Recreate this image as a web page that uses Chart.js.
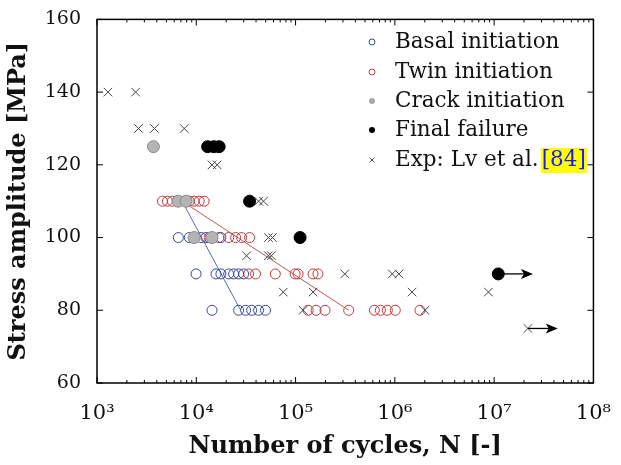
<!DOCTYPE html>
<html>
<head>
<meta charset="utf-8">
<script src="https://cdn.jsdelivr.net/npm/chart.js@4"></script>
<style>body{margin:0;background:#fff}</style>
</head>
<body>
<canvas id="chart" width="621" height="465" style="width:621px;height:465px"></canvas>
<script>
// values (cycles N, stress in MPa)
const basalN = [6600, 8500, 11200, 12500, 17700, 9950, 15800, 17700, 21200, 23800, 26700, 30000, 14400, 26700, 31400, 36100, 42400, 49800];
const basalS = [100, 100, 100, 100, 100, 90, 90, 90, 90, 90, 90, 90, 80, 80, 80, 80, 80, 80];

const twinN = [4560, 5120, 5740, 6430, 8480, 9500, 10700, 12000, 13500, 16900, 21200, 24900, 28600, 34400, 33700, 39500, 62500, 99000, 106000, 150000, 168000, 134000, 161000, 198000, 343000, 622000, 715000, 840000, 1010000, 1790000];
const twinS = [110, 110, 110, 110, 110, 110, 110, 110, 100, 100, 100, 100, 100, 100, 90, 90, 90, 90, 90, 90, 90, 80, 80, 80, 80, 80, 80, 80, 80, 80];

const crackN = [3700, 6580, 7900, 9500, 14400];
const crackS = [125, 110, 110, 100, 100];

const failN = [13000, 15000, 17000, 34400, 111000, 11000000];
const failS = [125, 125, 125, 110, 100, 90];

const expN = [1290, 2450, 2620, 3790, 7560, 14400, 16200, 42400, 47500, 53300, 58500, 32100, 53300, 57100, 313000, 942000, 1100000, 75200, 150000, 1490000, 8750000, 119000, 2010000, 21900000];
const expS = [140, 140, 130, 130, 130, 120, 120, 110, 110, 100, 100, 95, 95, 95, 90, 90, 90, 85, 85, 85, 85, 80, 80, 75];

// fitted lines
const basalLineN = [7200, 28000];
const twinLineN = [7200, 343000];
const lineS = [110, 80];

// run-out arrows: start N, end N, stress
const arrowFrom = [11000000, 21900000];
const arrowTo = [24600000, 43700000];
const arrowS = [90, 75];

const xTickExp = [3, 4, 5, 6, 7, 8];
const supers = {3: '³', 4: '⁴', 5: '⁵', 6: '⁶', 7: '⁷', 8: '⁸'};

const legendLabels = ['Basal initiation', 'Twin initiation', 'Crack initiation', 'Final failure', 'Exp: Lv et al.'];

function pts(xs, ys) {
    return xs.map((x, i) => ({x: x, y: ys[i]}));
}

const serif = "'DejaVu Serif', serif";

// frame, inward ticks, arrows and legend
const extras = {
    id: 'extras',
    afterDatasetsDraw(chart) {
        const ctx = chart.ctx;
        const a = chart.chartArea;
        const xs = chart.scales.x, ys = chart.scales.y;
        ctx.save();
        // arrows
        ctx.strokeStyle = '#000';
        ctx.fillStyle = '#000';
        ctx.lineWidth = 1.3;
        arrowFrom.forEach((n, i) => {
            const x0 = xs.getPixelForValue(n), x1 = xs.getPixelForValue(arrowTo[i]);
            const y = ys.getPixelForValue(arrowS[i]);
            ctx.beginPath();
            ctx.moveTo(x0, y);
            ctx.lineTo(x1 - 8, y);
            ctx.stroke();
            ctx.beginPath();
            ctx.moveTo(x1, y);
            ctx.lineTo(x1 - 12, y - 5);
            ctx.lineTo(x1 - 9, y);
            ctx.lineTo(x1 - 12, y + 5);
            ctx.closePath();
            ctx.fill();
        });

        // frame
        ctx.lineWidth = 1.5;
        ctx.strokeRect(a.left, a.top, a.right - a.left, a.bottom - a.top);
        ctx.lineWidth = 1;
        ctx.beginPath();
        for (let e = 3; e < 8; e++) {
            for (let m = 1; m < 10; m++) {
                const px = xs.getPixelForValue(m * Math.pow(10, e));
                const len = m === 1 ? 6 : 3;
                ctx.moveTo(px, a.bottom); ctx.lineTo(px, a.bottom - len);
                ctx.moveTo(px, a.top); ctx.lineTo(px, a.top + len);
            }
        }
        for (let v = 60; v <= 160; v += 20) {
            const py = ys.getPixelForValue(v);
            ctx.moveTo(a.left, py); ctx.lineTo(a.left + 6, py);
            ctx.moveTo(a.right, py); ctx.lineTo(a.right - 6, py);
        }
        ctx.stroke();

        // legend
        const lx = 372, tx = 395, rows = [42, 72, 101, 130, 160];
        ctx.font = '21.5px ' + serif;
        ctx.textBaseline = 'middle';
        ctx.textAlign = 'left';
        rows.forEach((ry, i) => {
            ctx.lineWidth = 1;
            ctx.beginPath();
            if (i === 0) { ctx.strokeStyle = '#3a4a9a'; ctx.arc(lx, ry, 3, 0, 2 * Math.PI); ctx.stroke(); }
            if (i === 1) { ctx.strokeStyle = '#c04040'; ctx.arc(lx, ry, 3, 0, 2 * Math.PI); ctx.stroke(); }
            if (i === 2) { ctx.fillStyle = '#a8a8a8'; ctx.arc(lx, ry, 3, 0, 2 * Math.PI); ctx.fill(); }
            if (i === 3) { ctx.fillStyle = '#000'; ctx.arc(lx, ry, 3, 0, 2 * Math.PI); ctx.fill(); }
            if (i === 4) {
                ctx.strokeStyle = '#555';
                ctx.moveTo(lx - 2.5, ry - 2.5); ctx.lineTo(lx + 2.5, ry + 2.5);
                ctx.moveTo(lx + 2.5, ry - 2.5); ctx.lineTo(lx - 2.5, ry + 2.5);
                ctx.stroke();
            }
            ctx.fillStyle = '#111';
            ctx.fillText(legendLabels[i], tx, ry);
        });
        const w = ctx.measureText(legendLabels[4]).width;
        const bx = tx + w + 3;
        const bw = ctx.measureText('[84]').width;
        ctx.fillStyle = '#ffff00';
        ctx.fillRect(bx - 1, 148, bw + 2, 25);
        ctx.fillStyle = '#1a1aff';
        ctx.fillText('[84]', bx, 160);
        ctx.restore();
    }
};

const ctx = document.getElementById('chart').getContext('2d');
const myChart = new Chart(ctx, {
    type: 'scatter',
    data: {
        datasets: [
            {label: 'basal line', data: pts(basalLineN, lineS), showLine: true, borderColor: '#5a68b0', borderWidth: 1, pointRadius: 0, order: 9},
            {label: 'twin line', data: pts(twinLineN, lineS), showLine: true, borderColor: '#c05858', borderWidth: 1, pointRadius: 0, order: 9},
            {label: 'Twin initiation', data: pts(twinN, twinS), pointStyle: 'circle', pointRadius: 5, borderColor: '#c03a3a', backgroundColor: 'rgba(0,0,0,0)', borderWidth: 1, order: 8},
            {label: 'Basal initiation', data: pts(basalN, basalS), pointStyle: 'circle', pointRadius: 5, borderColor: '#37479a', backgroundColor: 'rgba(0,0,0,0)', borderWidth: 1, order: 7},
            {label: 'Crack initiation', data: pts(crackN, crackS), pointStyle: 'circle', pointRadius: 6, borderColor: '#8a8a8a', backgroundColor: '#b4b4b4', borderWidth: 1, order: 6},
            {label: 'Exp', data: pts(expN, expS), pointStyle: 'crossRot', pointRadius: 6, borderColor: '#444', borderWidth: 1, order: 5},
            {label: 'Final failure', data: pts(failN, failS), pointStyle: 'circle', pointRadius: 6, borderColor: '#000', backgroundColor: '#000', borderWidth: 1, order: 4}
        ]
    },
    options: {
        responsive: false,
        animation: false,
        layout: {padding: {top: 17, right: 23, left: 0, bottom: 0}},
        plugins: {legend: {display: false}, tooltip: {enabled: false}},
        scales: {
            x: {
                type: 'logarithmic',
                min: 1e3,
                max: 1e8,
                afterBuildTicks: s => { s.ticks = xTickExp.map(e => ({value: Math.pow(10, e)})); },
                afterFit: s => { s.height = 82; },
                grid: {display: false},
                border: {display: false},
                ticks: {
                    autoSkip: false,
                    maxRotation: 0,
                    padding: 10,
                    color: '#111',
                    font: {family: serif, size: 21},
                    callback: v => '10' + supers[Math.round(Math.log10(v))]
                },
                title: {display: true, text: 'Number of cycles, N [-]', color: '#111', font: {family: serif, size: 24, weight: 'bold'}, padding: {top: 0}}
            },
            y: {
                min: 60,
                max: 160,
                afterFit: s => { s.width = 97; },
                grid: {display: false},
                border: {display: false},
                ticks: {stepSize: 20, padding: 8, color: '#111', font: {family: serif, size: 19}},
                title: {display: true, text: 'Stress amplitude [MPa]', color: '#111', font: {family: serif, size: 24, weight: 'bold'}, padding: {bottom: 0}}
            }
        }
    },
    plugins: [extras]
});
</script>
</body>
</html>
